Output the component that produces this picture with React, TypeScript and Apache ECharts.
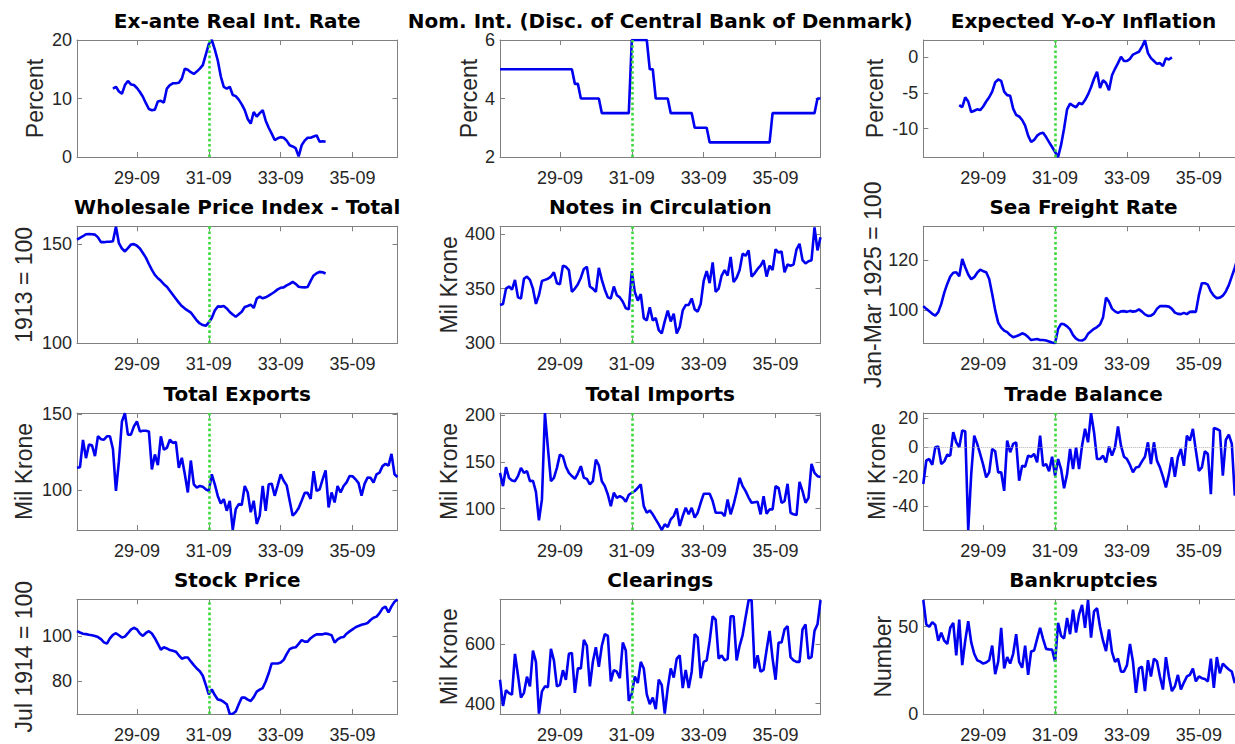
import React, { useEffect, useRef } from "react";
import * as echarts from "echarts";

// x axis: months counted from January 1928 (0) to December 1936 (107)
const FIRST_YEAR = 1928;
const X_MIN = 0;
const X_MAX = 107;
const xTickMonths = [20, 44, 68, 92]; // 29-09, 31-09, 33-09, 35-09
const breakMonth = 44; // Sep 1931

// ---- series values (monthly) ----
const realRateStart = 12;
const realRate = [
  11.7, 12.0, 11.2, 10.8, 12.3, 13.0, 12.4, 12.3, 11.8, 11.1,
  10.3, 9.2, 8.2, 8.0, 8.1, 9.5, 9.6, 9.3, 11.7, 12.3,
  12.6, 12.6, 12.7, 13.4, 15.1, 14.9, 14.5, 14.2, 14.6, 15.1,
  15.7, 17.5, 19.3, 20.0, 18.4, 16.5, 13.8, 12.0, 11.7, 12.0,
  10.6, 10.4, 9.8, 9.0, 8.0, 6.5, 5.7, 7.7, 6.9, 7.5,
  8.0, 6.2, 5.0, 4.0, 2.9, 3.2, 3.4, 3.3, 2.8, 2.0,
  1.8, 1.5, 0.1, 2.0, 2.8, 3.3, 3.3, 3.5, 3.7, 2.6, 2.7, 2.6,
];

const nomRateStart = 0;
const nomRate = [
  5, 5, 5, 5, 5, 5, 5, 5, 5, 5, 5, 5, 5, 5, 5, 5, 5, 5, 5, 5, 5, 5, 5, 5, 5,
  4.5, 4.5,
  4, 4, 4, 4, 4, 4, 4,
  3.5, 3.5, 3.5, 3.5, 3.5, 3.5, 3.5, 3.5, 3.5, 3.5,
  6, 6, 6, 6, 6, 6,
  5, 5,
  4, 4, 4, 4, 4,
  3.5, 3.5, 3.5, 3.5, 3.5, 3.5, 3.5, 3.5,
  3, 3, 3, 3, 3,
  2.5, 2.5, 2.5, 2.5, 2.5, 2.5, 2.5, 2.5, 2.5, 2.5, 2.5, 2.5, 2.5, 2.5, 2.5, 2.5, 2.5, 2.5, 2.5, 2.5, 2.5,
  3.5, 3.5, 3.5, 3.5, 3.5, 3.5, 3.5, 3.5, 3.5, 3.5, 3.5, 3.5, 3.5, 3.5, 3.5,
  4, 4,
];

const expInflStart = 12;
const expInfl = [
  -6.7, -7.0, -5.6, -6.2, -7.7, -7.5, -7.3, -7.4, -6.9, -6.2,
  -5.6, -4.8, -3.5, -3.1, -3.3, -4.8, -5.3, -5.4, -7.2, -8.1,
  -8.3, -8.8, -9.6, -11.0, -11.9, -11.6, -11.0, -10.7, -10.6, -11.2,
  -11.9, -12.6, -13.3, -14.0, -12.3, -10.0, -7.3, -6.5, -6.8, -7.0,
  -6.4, -6.6, -6.0, -5.2, -4.2, -3.0, -2.0, -4.3, -3.2, -3.6,
  -4.6, -2.5, -1.6, -0.8, 0.1, -0.5, -0.5, -0.2, 0.4, 0.6,
  0.8, 1.5, 2.4, 0.6, -0.1, -0.5, -0.9, -0.8, -1.2, -0.1, -0.3, 0.0,
];

const wpiStart = 0;
const wpi = [
  152.3, 153.2, 154.0, 155.0, 155.1, 155.0, 154.8, 153.4, 151.0, 151.0,
  151.2, 151.2, 151.5, 158.8, 150.5, 147.8, 146.3, 148.0, 149.8, 150.0,
  149.2, 147.8, 145.5, 143.2, 140.0, 137.0, 134.5, 132.8, 131.5, 129.8,
  128.5, 126.5, 124.5, 122.5, 120.5, 118.8, 117.5, 116.5, 115.5, 113.5,
  111.5, 110.0, 109.2, 108.8, 110.5, 112.8, 116.5, 118.6, 118.5, 118.8,
  117.6, 115.8, 114.5, 113.4, 114.6, 115.9, 118.3, 118.8, 119.5, 117.8,
  122.5, 123.5, 122.7, 123.2, 124.0, 125.0, 126.0, 127.2, 128.0, 128.2,
  129.2, 130.0, 131.0, 130.0, 128.5, 128.3, 128.2, 128.4, 131.5, 134.2,
  135.3, 136.0, 135.8, 135.2,
];

const notesStart = 0;
const notes = [
  335, 336, 350, 352, 349, 358, 342, 341, 359, 361,
  358, 350, 336, 344, 357, 358, 359, 361, 365, 355,
  354, 371, 370, 367, 347, 350, 354, 360, 368, 370,
  352, 350, 347, 369, 358, 349, 342, 341, 352, 344,
  342, 338, 332, 331, 366, 347, 339, 345, 323, 321,
  333, 321, 323, 312, 309, 320, 330, 320, 327, 309,
  315, 330, 335, 335, 341, 331, 329, 336, 357, 366,
  355, 374, 347, 350, 362, 367, 362, 379, 356, 360,
  367, 382, 380, 385, 361, 364, 368, 371, 376, 361,
  371, 367, 386, 383, 384, 365, 372, 371, 372, 386,
  391, 376, 373, 375, 376, 406, 385, 397,
];

const freightStart = 0;
const freight = [
  101.6, 100.5, 99.5, 98.5, 97.8, 99.2, 102.5, 107.0, 110.5, 113.5,
  115.0, 115.2, 113.6, 120.5, 117.2, 114.3, 112.4, 113.2, 115.0, 116.2,
  115.6, 115.2, 112.5, 106.5, 100.0, 95.0, 93.0, 91.8, 91.2, 90.0,
  89.1, 89.5, 90.0, 90.7, 90.2, 89.2, 88.0, 88.2, 88.4, 88.0,
  88.0, 87.8, 87.4, 87.0, 86.7, 92.5, 94.5, 94.3, 93.5, 92.3,
  90.0, 88.6, 87.9, 87.8, 88.5, 90.5, 91.5, 92.5, 93.2, 94.2,
  97.0, 105.0, 103.4, 100.6, 99.5, 98.9, 99.5, 99.6, 99.3, 99.7,
  99.4, 99.6, 100.3, 99.4, 98.3, 97.7, 97.8, 98.6, 100.5, 101.6,
  101.6, 101.6, 101.4, 100.5, 99.0, 98.5, 98.4, 98.9, 98.4, 99.3,
  99.4, 99.3, 106.0, 110.8, 110.8, 110.2, 107.5, 105.8, 104.8, 105.0,
  105.8, 107.5, 110.0, 113.5, 117.0, 121.0,
];

const exportsStart = 0;
const exportsV = [
  114.6, 115.0, 133.0, 121.0, 130.0, 129.5, 122.3, 135.4, 133.5, 133.2,
  135.4, 135.4, 127.0, 99.3, 119.0, 145.2, 150.7, 136.5, 136.5, 142.0,
  145.2, 138.6, 139.1, 139.1, 138.6, 113.5, 123.4, 116.4, 135.4, 126.6,
  127.7, 133.2, 131.0, 131.7, 114.6, 121.2, 110.3, 98.3, 119.4, 103.7,
  101.5, 102.6, 102.0, 100.4, 99.3, 110.3, 103.7, 96.0, 91.0, 93.9,
  86.2, 92.8, 73.6, 87.3, 90.6, 90.0, 102.6, 98.3, 85.2, 92.8,
  77.5, 83.0, 102.6, 86.2, 103.7, 104.1, 96.1, 103.0, 110.3, 106.0,
  103.0, 92.8, 83.0, 85.0, 88.0, 92.8, 98.0, 98.0, 94.0, 112.4,
  99.3, 100.4, 107.0, 112.9, 88.4, 98.3, 91.7, 102.6, 98.3, 102.6,
  105.0, 109.2, 109.0, 107.0, 104.5, 96.1, 104.0, 108.1, 108.0, 104.8,
  110.3, 111.4, 115.7, 117.2, 116.0, 123.8, 110.3, 108.5,
];

const importsStart = 0;
const importsV = [
  138.4, 124.2, 144.5, 133.1, 130.2, 129.5, 134.9, 143.8, 138.4, 140.2,
  129.5, 130.0, 118.0, 87.5, 110.0, 202.5, 165.0, 129.5, 133.1, 143.8,
  158.0, 156.2, 145.0, 138.4, 135.0, 132.0, 138.0, 145.6, 133.1, 132.0,
  126.0, 129.5, 152.7, 146.6, 129.5, 124.2, 115.3, 102.8, 117.1, 111.7,
  113.5, 111.7, 107.5, 115.0, 117.1, 119.0, 122.4, 126.0, 102.8, 95.7,
  98.2, 94.0, 88.6, 83.3, 77.2, 83.3, 80.4, 88.6, 92.2, 100.4,
  81.5, 92.2, 101.0, 94.0, 101.0, 90.4, 95.7, 106.4, 116.0, 116.0,
  116.0, 108.2, 95.7, 95.7, 95.7, 92.2, 110.0, 94.0, 104.6, 118.0,
  133.1, 124.2, 118.9, 112.0, 106.4, 107.0, 107.5, 94.0, 113.5, 94.7,
  99.3, 99.3, 124.2, 122.4, 106.4, 108.2, 126.7, 95.7, 94.0, 93.2,
  128.8, 118.9, 106.4, 111.7, 148.0, 138.4, 134.9, 134.0,
];

const tradeBalStart = 0;
const tradeBal = [
  -25.0, -9.0, -8.0, -12.0, 0.0, 0.5, -11.4, -9.6, -5.0, -5.7,
  10.3, 3.4, 0.0, 11.4, 11.0, -56.4, -18.3, 8.0, 2.3, -4.6,
  -12.0, -20.5, -17.1, -1.1, -2.7, -17.1, -17.0, -29.7, 4.6, -3.4,
  2.3, 3.4, -22.8, -12.6, -13.2, -5.7, -6.4, -4.6, -10.3, 8.0,
  -12.6, -11.4, -16.4, -6.4, -19.4, -8.0, -14.8, -27.9, -18.3, -1.1,
  -14.8, 0.0, -14.8, 1.1, 12.6, 3.4, 23.3, 10.3, -8.0, -8.0,
  -5.7, -10.3, 0.5, -5.7, 0.0, 14.2, 1.1, -6.4, -8.0, -12.0,
  -17.1, -13.7, -13.2, -9.6, -6.4, 3.4, -11.4, 3.4, -9.1, -13.7,
  -20.0, -27.4, -18.3, -6.8, -20.1, -6.8, -1.1, -12.6, 8.0, 4.6,
  12.6, -2.3, -16.0, -13.7, -2.7, -4.6, -32.0, 13.2, 12.5, 11.4,
  -19.4, 5.0, 8.7, 2.3, -33.0,
];

const stockStart = 0;
const stock = [
  102.1, 101.5, 101.0, 100.8, 100.5, 100.3, 100.0, 99.5, 98.6, 97.2,
  96.6, 98.9, 100.5, 101.2, 100.3, 99.3, 99.7, 101.2, 102.8, 103.6,
  102.9, 101.1, 100.0, 101.3, 102.1, 101.1, 99.0, 96.5, 94.0, 95.0,
  94.5, 93.8, 93.5, 93.1, 91.5, 90.0, 90.5, 90.5, 88.8, 87.2,
  85.7, 84.5, 82.5, 78.5, 74.3, 76.5, 74.0, 72.1, 71.8, 71.0,
  70.0, 65.7, 65.8, 66.8, 70.0, 72.9, 72.9, 72.0, 71.4, 73.1,
  75.5, 76.4, 77.1, 80.0, 83.6, 87.9, 87.9, 87.9, 88.3, 89.5,
  92.0, 94.2, 94.8, 95.0, 96.5, 98.2, 97.5, 97.5, 99.0, 100.0,
  100.7, 100.7, 100.7, 101.1, 100.8, 100.3, 97.1, 98.5, 99.3, 99.5,
  101.0, 102.0, 102.9, 103.8, 104.4, 104.9, 105.2, 105.7, 107.0, 108.0,
  108.5, 110.0, 112.1, 112.9, 110.3, 113.0, 115.0, 116.0,
];

const clearingsStart = 0;
const clearings = [
  480, 392, 445, 435, 430, 567, 495, 420, 436, 490,
  458, 578, 540, 366, 441, 458, 455, 584, 545, 458,
  463, 512, 480, 567, 570, 436, 518, 518, 614, 594,
  458, 540, 589, 523, 594, 633, 627, 474, 512, 507,
  485, 605, 578, 409, 433, 491, 469, 540, 518, 431,
  398, 420, 381, 480, 463, 366, 452, 518, 487, 551,
  562, 452, 513, 452, 507, 633, 622, 485, 540, 545,
  611, 693, 682, 551, 562, 545, 550, 693, 693, 545,
  594, 630, 690, 747, 747, 518, 562, 507, 513, 580,
  644, 551, 480, 605, 605, 649, 660, 556, 545, 540,
  540, 649, 666, 551, 556, 644, 666, 747,
];

const bankruptStart = 0;
const bankrupt = [
  65.3, 51.3, 50.0, 52.6, 51.0, 42.0, 46.6, 42.0, 40.1, 49.4,
  52.2, 33.6, 54.1, 28.0, 42.0, 53.2, 41.0, 34.5, 30.8, 30.0,
  28.9, 29.5, 30.8, 39.2, 22.8, 29.9, 49.4, 26.1, 32.6, 28.9,
  34.5, 45.7, 29.9, 26.5, 39.2, 22.4, 35.8, 36.4, 43.0, 49.4,
  42.9, 37.3, 37.0, 36.9, 29.9, 52.2, 44.8, 43.3, 55.0, 45.7,
  59.7, 46.6, 56.9, 62.5, 49.4, 65.3, 43.8, 58.8, 60.6, 50.0,
  42.0, 36.0, 48.5, 35.4, 29.9, 31.7, 24.3, 24.3, 28.0, 40.1,
  29.9, 12.1, 26.1, 27.1, 13.1, 30.8, 21.5, 31.7, 30.2, 21.5,
  14.0, 32.6, 21.5, 13.1, 15.9, 22.4, 14.0, 18.0, 21.5, 22.4,
  26.1, 18.7, 21.5, 20.5, 20.0, 18.7, 31.7, 14.9, 32.6, 23.3,
  28.9, 27.1, 25.5, 24.3, 17.7,
];

// ---- panel descriptions ----
interface Panel {
  title: string;
  ylabel: string;
  nameGap: number;
  min: number;
  max: number;
  ticks: number[];
  start: number;
  values: number[];
  zeroLine?: boolean;
}

const panels: Panel[] = [
  { title: "Ex-ante Real Int. Rate", ylabel: "Percent", nameGap: 30.5, min: 0, max: 20, ticks: [0, 10, 20], start: realRateStart, values: realRate },
  { title: "Nom. Int. (Disc. of Central Bank of Denmark)", ylabel: "Percent", nameGap: 20, min: 2, max: 6, ticks: [2, 4, 6], start: nomRateStart, values: nomRate },
  { title: "Expected Y-o-Y Inflation", ylabel: "Percent", nameGap: 36.5, min: -14, max: 2.45, ticks: [-10, -5, 0], start: expInflStart, values: expInfl },
  { title: "Wholesale Price Index - Total", ylabel: "1913 = 100", nameGap: 42, min: 100, max: 159, ticks: [100, 150], start: wpiStart, values: wpi },
  { title: "Notes in Circulation", ylabel: "Mil Krone", nameGap: 40, min: 300, max: 407, ticks: [300, 350, 400], start: notesStart, values: notes },
  { title: "Sea Freight Rate", ylabel: "Jan-Mar 1925 = 100", nameGap: 39, min: 86.7, max: 133.6, ticks: [100, 120], start: freightStart, values: freight },
  { title: "Total Exports", ylabel: "Mil Krone", nameGap: 41.5, min: 73.5, max: 150.8, ticks: [100, 150], start: exportsStart, values: exportsV },
  { title: "Total Imports", ylabel: "Mil Krone", nameGap: 40, min: 77.2, max: 202.6, ticks: [100, 150, 200], start: importsStart, values: importsV },
  { title: "Trade Balance", ylabel: "Mil Krone", nameGap: 35, min: -56.4, max: 23.4, ticks: [-40, -20, 0, 20], start: tradeBalStart, values: tradeBal, zeroLine: true },
  { title: "Stock Price", ylabel: "Jul 1914 = 100", nameGap: 41.5, min: 65.7, max: 116.1, ticks: [80, 100], start: stockStart, values: stock },
  { title: "Clearings", ylabel: "Mil Krone", nameGap: 40, min: 365, max: 750, ticks: [400, 600], start: clearingsStart, values: clearings },
  { title: "Bankruptcies", ylabel: "Number", nameGap: 26.5, min: 0, max: 65.7, ticks: [0, 50], start: bankruptStart, values: bankrupt },
];

// ---- layout / style ----
// The figure is wider than the window: its right column is cut off at the window edge.
const CANVAS_W = 1262;
const CANVAS_H = 744;
const COL_LEFT = [77, 500, 923.3];
const ROW_TOP = [40, 226.3, 413, 599.3];
const BOX_W = 320.5;
const BOX_H = 117;
const AXIS_COLOR = "#808080";
const TEXT_COLOR = "#262626";
const BLUE = "#0000f0";
const GREEN = "#3bd93b";
const LABEL_FONT = "'Liberation Sans', Arial, Helvetica, sans-serif";
const TITLE_FONT = "'DejaVu Sans', Verdana, sans-serif";

function fmtMonth(v: number): string {
  const m = Math.round(v);
  const yy = (FIRST_YEAR + Math.floor(m / 12)) % 100;
  const mm = (m % 12) + 1;
  return String(yy).padStart(2, "0") + "-" + String(mm).padStart(2, "0");
}

function buildOption(): any {
  const grid: any[] = [];
  const xAxis: any[] = [];
  const yAxis: any[] = [];
  const series: any[] = [];
  const graphic: any[] = [];

  panels.forEach((p, i) => {
    const col = i % 3;
    const row = Math.floor(i / 3);
    const left = COL_LEFT[col];
    const top = ROW_TOP[row];
    grid.push({ left, top, width: BOX_W, height: BOX_H, containLabel: false, show: false });

    const axisLine = { show: true, onZero: false, lineStyle: { color: AXIS_COLOR, width: 1 } };
    const baseX = {
      type: "value",
      gridIndex: i,
      min: X_MIN,
      max: X_MAX,
      splitLine: { show: false },
      axisLine,
      axisTick: { show: true, inside: true, length: 5, customValues: xTickMonths, lineStyle: { color: AXIS_COLOR, width: 1 } },
    };
    xAxis.push({
      ...baseX,
      position: "bottom",
      axisLabel: { show: true, customValues: xTickMonths, formatter: fmtMonth, margin: 12, fontSize: 18, fontFamily: LABEL_FONT, color: TEXT_COLOR },
    });
    xAxis.push({ ...baseX, position: "top", axisLabel: { show: false } });

    const baseY = {
      type: "value",
      gridIndex: i,
      min: p.min,
      max: p.max,
      splitLine: { show: false },
      axisLine,
      axisTick: { show: true, inside: true, length: 5, customValues: p.ticks, lineStyle: { color: AXIS_COLOR, width: 1 } },
    };
    yAxis.push({
      ...baseY,
      position: "left",
      axisLabel: { show: true, customValues: p.ticks, margin: 5, fontSize: 18, fontFamily: LABEL_FONT, color: TEXT_COLOR },
      name: p.ylabel,
      nameLocation: "middle",
      nameGap: p.nameGap,
      nameTextStyle: { fontSize: 23, fontFamily: LABEL_FONT, color: TEXT_COLOR },
    });
    yAxis.push({ ...baseY, position: "right", axisLabel: { show: false } });

    const markData: any[] = [{ xAxis: breakMonth }];
    if (p.zeroLine) {
      markData.push({ yAxis: 0, lineStyle: { color: "#b3b3b3", type: "dotted", width: 1 } });
    }

    series.push({
      type: "line",
      xAxisIndex: 2 * i,
      yAxisIndex: 2 * i,
      data: p.values.map((v, k) => [p.start + k, v]),
      showSymbol: false,
      symbol: "none",
      silent: true,
      lineStyle: { color: BLUE, width: 2.6 },
      itemStyle: { color: BLUE },
      markLine: {
        silent: true,
        symbol: ["none", "none"],
        label: { show: false },
        lineStyle: { color: GREEN, type: "dotted", width: 2.6 },
        data: markData,
      },
    });

    graphic.push({
      type: "text",
      x: left + BOX_W / 2,
      y: top - 19,
      silent: true,
      style: {
        text: p.title,
        fontSize: 20,
        fontWeight: "bold",
        fontFamily: TITLE_FONT,
        fill: "#000000",
        align: "center",
        verticalAlign: "middle",
      },
    });
  });

  return {
    animation: false,
    backgroundColor: "#ffffff",
    grid,
    xAxis,
    yAxis,
    series,
    graphic,
  };
}

export default function App() {
  const ref = useRef<HTMLDivElement | null>(null);
  useEffect(() => {
    document.documentElement.style.overflow = "hidden";
    document.body.style.overflow = "hidden";
    if (!ref.current) return;
    const chart = echarts.init(ref.current, undefined, { renderer: "svg" });
    chart.setOption(buildOption());
    return () => chart.dispose();
  }, []);
  return (
    <div
      ref={ref}
      style={{ position: "fixed", left: 0, top: 0, width: CANVAS_W, height: CANVAS_H, background: "#ffffff" }}
    />
  );
}
